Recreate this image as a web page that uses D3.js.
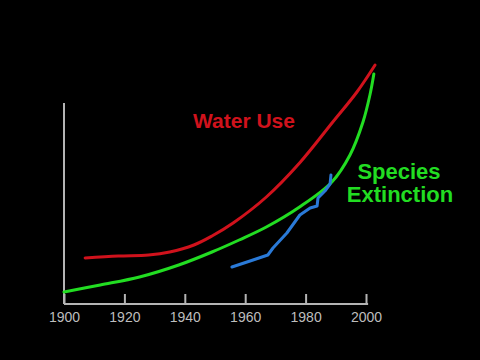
<!DOCTYPE html>
<html>
<head>
<meta charset="utf-8">
<script src="https://cdn.jsdelivr.net/npm/d3@7"></script>
<style>
  html, body { margin: 0; padding: 0; background: #000; }
  svg { display: block; }
</style>
</head>
<body>
<svg id="chart" width="480" height="360"></svg>
<script>
// Data (arbitrary relative units)
const waterYears = [1907, 1918, 1928, 1935, 1943, 1949, 1956, 1967, 1978, 1989, 1997, 2003];
const waterValues = [23, 24, 24.5, 26, 29.5, 34, 40.5, 53.5, 70.5, 91, 106, 119.5];

const extinctionYears = [1900, 1912, 1925, 1938, 1949, 1958, 1967, 1978, 1988.7, 1994.7, 1999, 2001.3, 2002.6];
const extinctionValues = [6, 9.5, 13.5, 19.5, 26, 32, 38.5, 48.5, 61, 74.5, 91, 104.5, 115];

const observedYears = [1955.6, 1961.6, 1967.5, 1969.2, 1973.8, 1978.1, 1981.5, 1983.8, 1984.1, 1986.4, 1988.1, 1988.4];
const observedValues = [18.5, 21.5, 24.5, 28, 35.5, 44.5, 48, 49, 53, 56.5, 60, 64.5];

const tickYears = [1900, 1920, 1940, 1960, 1980, 2000];
const labels = { water: "Water Use", species: ["Species", "Extinction"] };

const svg = d3.select("#chart");
const x = d3.scaleLinear().domain([1900, 2000]).range([64, 366]);
const y = d3.scaleLinear().domain([0, 100]).range([304, 104]);

// Axes
const xAxis = d3.axisBottom(x).tickValues(tickYears).tickFormat(d3.format("d"))
  .tickSize(-10).tickSizeOuter(0).tickPadding(8);
const gx = svg.append("g").attr("transform", `translate(0,${y(0)})`).call(xAxis);
gx.select(".domain").attr("stroke", "#b4b4b4").attr("stroke-width", 2)
  .attr("d", `M${x(1900)},0H${x(2000.7)}`);
gx.selectAll(".tick line").attr("stroke", "#b4b4b4").attr("stroke-width", 2);
gx.selectAll(".tick text").attr("fill", "#bdbdbd")
  .attr("font-family", "Liberation Sans, Arial, sans-serif").attr("font-size", 14);

const yAxis = d3.axisLeft(y).tickValues([]).tickSizeOuter(0);
const gy = svg.append("g").attr("transform", `translate(${x(1900)},0)`).call(yAxis);
gy.select(".domain").attr("stroke", "#b4b4b4").attr("stroke-width", 2)
  .attr("d", `M0,${y(100.5)}V${y(0)}`);

// Lines
function drawLine(years, values, color, curve) {
  const data = years.map((yr, i) => [yr, values[i]]);
  svg.append("path").datum(data)
    .attr("fill", "none").attr("stroke", color).attr("stroke-width", 3)
    .attr("stroke-linecap", "round").attr("stroke-linejoin", "round")
    .attr("d", d3.line().x(d => x(d[0])).y(d => y(d[1])).curve(curve));
}
drawLine(waterYears, waterValues, "#d0121c", d3.curveCatmullRom.alpha(0.5));
drawLine(extinctionYears, extinctionValues, "#22dd22", d3.curveCatmullRom.alpha(0.5));
drawLine(observedYears, observedValues, "#2a7ad8", d3.curveLinear);

// Labels
svg.append("text").attr("x", 193).attr("y", 128)
  .attr("font-family", "Liberation Sans, Arial, sans-serif").attr("font-weight", "bold")
  .attr("font-size", 21).attr("fill", "#d0121c").text(labels.water);
svg.append("text").attr("x", 399).attr("y", 179).attr("text-anchor", "middle")
  .attr("font-family", "Liberation Sans, Arial, sans-serif").attr("font-weight", "bold")
  .attr("font-size", 22).attr("fill", "#22dd22").text(labels.species[0]);
svg.append("text").attr("x", 400).attr("y", 202).attr("text-anchor", "middle")
  .attr("font-family", "Liberation Sans, Arial, sans-serif").attr("font-weight", "bold")
  .attr("font-size", 22).attr("fill", "#22dd22").text(labels.species[1]);
</script>
</body>
</html>
